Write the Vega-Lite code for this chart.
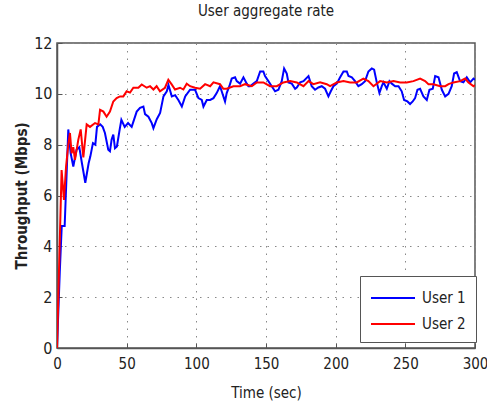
{
  "$schema": "https://vega.github.io/schema/vega-lite/v6.json",
  "autosize": "none",
  "padding": {"left": 57, "top": 43, "right": 12, "bottom": 58},
  "width": 418,
  "height": 305,
  "background": "white",
  "title": {"text": "User aggregate rate", "fontSize": 15, "fontWeight": "normal", "font": "DejaVu Sans Condensed, sans-serif", "color": "#222", "offset": 16},
  "config": {
    "view": {"stroke": "#555", "strokeWidth": 1.5},
    "axis": {"labelFont": "DejaVu Sans Condensed, sans-serif", "titleFont": "DejaVu Sans Condensed, sans-serif", "labelColor": "#222", "titleColor": "#222"}
  },
  "data": {"values": [
    {"t":0,"v":0,"user":"User 1"},{"t":2,"v":3.0,"user":"User 1"},{"t":3.4,"v":4.8,"user":"User 1"},{"t":5.5,"v":4.8,"user":"User 1"},{"t":8.1,"v":8.6,"user":"User 1"},{"t":9.8,"v":7.66,"user":"User 1"},{"t":11.7,"v":7.14,"user":"User 1"},{"t":14,"v":7.8,"user":"User 1"},{"t":16,"v":7.9,"user":"User 1"},{"t":17.9,"v":7.27,"user":"User 1"},{"t":20.3,"v":6.5,"user":"User 1"},{"t":22.7,"v":7.27,"user":"User 1"},{"t":23.9,"v":7.53,"user":"User 1"},{"t":25.8,"v":8.06,"user":"User 1"},{"t":27.5,"v":8.0,"user":"User 1"},{"t":28.7,"v":8.7,"user":"User 1"},{"t":31,"v":8.8,"user":"User 1"},{"t":32.8,"v":8.7,"user":"User 1"},{"t":34.4,"v":8.46,"user":"User 1"},{"t":36.8,"v":7.8,"user":"User 1"},{"t":38,"v":7.74,"user":"User 1"},{"t":39.2,"v":8.2,"user":"User 1"},{"t":40.4,"v":8.4,"user":"User 1"},{"t":41.6,"v":7.86,"user":"User 1"},{"t":43,"v":7.93,"user":"User 1"},{"t":45,"v":8.6,"user":"User 1"},{"t":46.2,"v":8.98,"user":"User 1"},{"t":48.6,"v":8.7,"user":"User 1"},{"t":51,"v":8.85,"user":"User 1"},{"t":53.6,"v":8.7,"user":"User 1"},{"t":57.2,"v":9.3,"user":"User 1"},{"t":59.6,"v":9.45,"user":"User 1"},{"t":62,"v":9.5,"user":"User 1"},{"t":63.2,"v":9.2,"user":"User 1"},{"t":65.6,"v":9.1,"user":"User 1"},{"t":68,"v":8.85,"user":"User 1"},{"t":69.2,"v":8.65,"user":"User 1"},{"t":71.6,"v":9.0,"user":"User 1"},{"t":74,"v":9.25,"user":"User 1"},{"t":76.4,"v":9.9,"user":"User 1"},{"t":78.8,"v":10.1,"user":"User 1"},{"t":80,"v":10.35,"user":"User 1"},{"t":82.4,"v":9.9,"user":"User 1"},{"t":84.8,"v":9.95,"user":"User 1"},{"t":87.2,"v":9.75,"user":"User 1"},{"t":89.6,"v":9.5,"user":"User 1"},{"t":92,"v":9.9,"user":"User 1"},{"t":95.5,"v":10.16,"user":"User 1"},{"t":99.1,"v":10.16,"user":"User 1"},{"t":101.5,"v":9.83,"user":"User 1"},{"t":103.9,"v":9.76,"user":"User 1"},{"t":105.1,"v":9.5,"user":"User 1"},{"t":107.5,"v":9.76,"user":"User 1"},{"t":109.9,"v":9.76,"user":"User 1"},{"t":112.3,"v":9.83,"user":"User 1"},{"t":114.6,"v":10.03,"user":"User 1"},{"t":117,"v":10.3,"user":"User 1"},{"t":118.2,"v":10.1,"user":"User 1"},{"t":119.4,"v":9.9,"user":"User 1"},{"t":120.6,"v":9.7,"user":"User 1"},{"t":121.8,"v":10.03,"user":"User 1"},{"t":123.7,"v":10.3,"user":"User 1"},{"t":125.4,"v":10.6,"user":"User 1"},{"t":127.8,"v":10.65,"user":"User 1"},{"t":129,"v":10.5,"user":"User 1"},{"t":131.4,"v":10.4,"user":"User 1"},{"t":133.8,"v":10.65,"user":"User 1"},{"t":136.2,"v":10.4,"user":"User 1"},{"t":137.4,"v":10.3,"user":"User 1"},{"t":138.6,"v":10.3,"user":"User 1"},{"t":141,"v":10.4,"user":"User 1"},{"t":143.4,"v":10.5,"user":"User 1"},{"t":145.8,"v":10.88,"user":"User 1"},{"t":148.1,"v":10.88,"user":"User 1"},{"t":149.3,"v":10.7,"user":"User 1"},{"t":151.7,"v":10.5,"user":"User 1"},{"t":154.1,"v":10.3,"user":"User 1"},{"t":156.5,"v":10.1,"user":"User 1"},{"t":158.9,"v":10.16,"user":"User 1"},{"t":161.3,"v":10.5,"user":"User 1"},{"t":163,"v":11.0,"user":"User 1"},{"t":164.9,"v":10.8,"user":"User 1"},{"t":166.1,"v":10.45,"user":"User 1"},{"t":168.5,"v":10.4,"user":"User 1"},{"t":170.9,"v":10.2,"user":"User 1"},{"t":172.1,"v":10.25,"user":"User 1"},{"t":174.5,"v":10.45,"user":"User 1"},{"t":176.9,"v":10.5,"user":"User 1"},{"t":180.5,"v":10.7,"user":"User 1"},{"t":182.8,"v":10.3,"user":"User 1"},{"t":185.2,"v":10.16,"user":"User 1"},{"t":187.6,"v":10.25,"user":"User 1"},{"t":190,"v":10.3,"user":"User 1"},{"t":192.4,"v":10.2,"user":"User 1"},{"t":194.8,"v":9.9,"user":"User 1"},{"t":196.5,"v":10.1,"user":"User 1"},{"t":198.4,"v":10.3,"user":"User 1"},{"t":200.8,"v":10.4,"user":"User 1"},{"t":203.2,"v":10.65,"user":"User 1"},{"t":205.6,"v":10.88,"user":"User 1"},{"t":208,"v":10.88,"user":"User 1"},{"t":209.2,"v":10.7,"user":"User 1"},{"t":211.6,"v":10.65,"user":"User 1"},{"t":213.9,"v":10.5,"user":"User 1"},{"t":216.3,"v":10.3,"user":"User 1"},{"t":218.7,"v":10.38,"user":"User 1"},{"t":221.1,"v":10.5,"user":"User 1"},{"t":223.5,"v":10.88,"user":"User 1"},{"t":225.9,"v":11.0,"user":"User 1"},{"t":227.6,"v":10.95,"user":"User 1"},{"t":229.5,"v":10.45,"user":"User 1"},{"t":231.4,"v":10.03,"user":"User 1"},{"t":233.1,"v":10.3,"user":"User 1"},{"t":234.3,"v":10.45,"user":"User 1"},{"t":236.7,"v":10.2,"user":"User 1"},{"t":238.6,"v":10.5,"user":"User 1"},{"t":240.3,"v":10.4,"user":"User 1"},{"t":242.7,"v":10.3,"user":"User 1"},{"t":245.1,"v":10.3,"user":"User 1"},{"t":247.4,"v":10.1,"user":"User 1"},{"t":249.1,"v":9.76,"user":"User 1"},{"t":251.5,"v":9.7,"user":"User 1"},{"t":253.4,"v":9.6,"user":"User 1"},{"t":255.3,"v":9.7,"user":"User 1"},{"t":257,"v":9.83,"user":"User 1"},{"t":258.7,"v":10.16,"user":"User 1"},{"t":260.6,"v":10.2,"user":"User 1"},{"t":263,"v":9.9,"user":"User 1"},{"t":265.4,"v":9.76,"user":"User 1"},{"t":267.3,"v":10.16,"user":"User 1"},{"t":269.7,"v":10.2,"user":"User 1"},{"t":271.4,"v":10.7,"user":"User 1"},{"t":273.8,"v":10.65,"user":"User 1"},{"t":276.2,"v":10.16,"user":"User 1"},{"t":278.6,"v":9.9,"user":"User 1"},{"t":281,"v":10.0,"user":"User 1"},{"t":283.3,"v":10.3,"user":"User 1"},{"t":285,"v":10.8,"user":"User 1"},{"t":286.9,"v":10.85,"user":"User 1"},{"t":289.3,"v":10.5,"user":"User 1"},{"t":291.7,"v":10.45,"user":"User 1"},{"t":294.1,"v":10.65,"user":"User 1"},{"t":296.5,"v":10.45,"user":"User 1"},{"t":298.9,"v":10.6,"user":"User 1"},{"t":300,"v":10.55,"user":"User 1"},
    {"t":0,"v":0,"user":"User 2"},{"t":3.3,"v":7.0,"user":"User 2"},{"t":5,"v":5.83,"user":"User 2"},{"t":6.5,"v":7.14,"user":"User 2"},{"t":8.1,"v":8.0,"user":"User 2"},{"t":9.3,"v":8.46,"user":"User 2"},{"t":10.5,"v":7.66,"user":"User 2"},{"t":11.7,"v":7.9,"user":"User 2"},{"t":12.9,"v":7.4,"user":"User 2"},{"t":15.3,"v":8.2,"user":"User 2"},{"t":17,"v":8.6,"user":"User 2"},{"t":18.9,"v":7.5,"user":"User 2"},{"t":21.3,"v":8.8,"user":"User 2"},{"t":23.7,"v":8.7,"user":"User 2"},{"t":27.3,"v":8.85,"user":"User 2"},{"t":29.7,"v":8.8,"user":"User 2"},{"t":30.9,"v":9.37,"user":"User 2"},{"t":33.3,"v":9.3,"user":"User 2"},{"t":35.6,"v":9.1,"user":"User 2"},{"t":38,"v":9.3,"user":"User 2"},{"t":40.4,"v":9.7,"user":"User 2"},{"t":42.8,"v":9.83,"user":"User 2"},{"t":45.2,"v":9.9,"user":"User 2"},{"t":47.6,"v":9.9,"user":"User 2"},{"t":50,"v":10.1,"user":"User 2"},{"t":52.4,"v":10.05,"user":"User 2"},{"t":54.8,"v":10.24,"user":"User 2"},{"t":58.4,"v":10.24,"user":"User 2"},{"t":60.8,"v":10.37,"user":"User 2"},{"t":64.4,"v":10.24,"user":"User 2"},{"t":66.8,"v":10.3,"user":"User 2"},{"t":69.2,"v":10.17,"user":"User 2"},{"t":71.5,"v":10.3,"user":"User 2"},{"t":73.9,"v":10.1,"user":"User 2"},{"t":77.5,"v":10.24,"user":"User 2"},{"t":79.9,"v":10.55,"user":"User 2"},{"t":82.3,"v":10.37,"user":"User 2"},{"t":84.7,"v":10.17,"user":"User 2"},{"t":88.3,"v":10.24,"user":"User 2"},{"t":90.7,"v":10.17,"user":"User 2"},{"t":93.1,"v":10.4,"user":"User 2"},{"t":95.5,"v":10.3,"user":"User 2"},{"t":99.1,"v":10.24,"user":"User 2"},{"t":102.7,"v":10.2,"user":"User 2"},{"t":106.3,"v":10.38,"user":"User 2"},{"t":109.9,"v":10.3,"user":"User 2"},{"t":112.3,"v":10.45,"user":"User 2"},{"t":117,"v":10.38,"user":"User 2"},{"t":119.4,"v":10.2,"user":"User 2"},{"t":121.8,"v":10.2,"user":"User 2"},{"t":126.6,"v":10.3,"user":"User 2"},{"t":131.4,"v":10.3,"user":"User 2"},{"t":135,"v":10.38,"user":"User 2"},{"t":139.8,"v":10.3,"user":"User 2"},{"t":143.4,"v":10.45,"user":"User 2"},{"t":148.1,"v":10.45,"user":"User 2"},{"t":152.9,"v":10.3,"user":"User 2"},{"t":157.7,"v":10.3,"user":"User 2"},{"t":162.5,"v":10.45,"user":"User 2"},{"t":167.3,"v":10.5,"user":"User 2"},{"t":172.1,"v":10.45,"user":"User 2"},{"t":176.9,"v":10.3,"user":"User 2"},{"t":180.5,"v":10.5,"user":"User 2"},{"t":184,"v":10.38,"user":"User 2"},{"t":188.8,"v":10.45,"user":"User 2"},{"t":193.6,"v":10.38,"user":"User 2"},{"t":196,"v":10.3,"user":"User 2"},{"t":200.8,"v":10.45,"user":"User 2"},{"t":205.6,"v":10.5,"user":"User 2"},{"t":210.4,"v":10.45,"user":"User 2"},{"t":215.1,"v":10.45,"user":"User 2"},{"t":219.9,"v":10.6,"user":"User 2"},{"t":223.5,"v":10.5,"user":"User 2"},{"t":227.1,"v":10.3,"user":"User 2"},{"t":231.9,"v":10.5,"user":"User 2"},{"t":236.7,"v":10.45,"user":"User 2"},{"t":241.5,"v":10.5,"user":"User 2"},{"t":246.3,"v":10.45,"user":"User 2"},{"t":251,"v":10.45,"user":"User 2"},{"t":255.8,"v":10.5,"user":"User 2"},{"t":260.6,"v":10.6,"user":"User 2"},{"t":264.2,"v":10.5,"user":"User 2"},{"t":266.6,"v":10.38,"user":"User 2"},{"t":270.2,"v":10.38,"user":"User 2"},{"t":275,"v":10.3,"user":"User 2"},{"t":278.6,"v":10.3,"user":"User 2"},{"t":281,"v":10.38,"user":"User 2"},{"t":284.5,"v":10.45,"user":"User 2"},{"t":289.3,"v":10.5,"user":"User 2"},{"t":292.9,"v":10.6,"user":"User 2"},{"t":295.3,"v":10.45,"user":"User 2"},{"t":298.9,"v":10.3,"user":"User 2"},{"t":300,"v":10.35,"user":"User 2"}
  ]},
  "mark": {"type": "line", "strokeWidth": 2, "clip": true},
  "encoding": {
    "x": {"field": "t", "type": "quantitative", "scale": {"domain": [0, 300], "nice": false},
      "axis": {"title": "Time (sec)", "values": [0,50,100,150,200,250,300], "labelFontSize": 15, "titleFontSize": 15, "titleFontWeight": "normal", "labelPadding": 13, "titlePadding": 14,
        "grid": true, "gridDash": [1.5, 6], "gridColor": "#888", "gridWidth": 1, "tickSize": -5, "tickColor": "#555", "domainColor": "#555", "domainWidth": 1.5, "labelFlush": false}},
    "y": {"field": "v", "type": "quantitative", "scale": {"domain": [0, 12], "nice": false},
      "axis": {"title": "Throughput (Mbps)", "values": [0,2,4,6,8,10,12], "labelFontSize": 16, "titleFontSize": 15, "titleFontWeight": "bold", "labelPadding": 10, "titlePadding": 4,
        "grid": true, "gridDash": [1.5, 6], "gridColor": "#888", "gridWidth": 1, "tickSize": -5, "tickColor": "#555", "domainColor": "#555", "domainWidth": 1.5}},
    "color": {"field": "user", "type": "nominal", "scale": {"domain": ["User 1", "User 2"], "range": ["#0000ff", "#ff0000"]},
      "legend": {"title": null, "orient": "none", "legendX": 303, "legendY": 233, "strokeColor": "#555", "fillColor": "white", "padding": 10, "symbolType": "M-1,0H3", "symbolSize": 484, "symbolStrokeWidth": 2, "labelFontSize": 15, "labelFont": "DejaVu Sans Condensed, sans-serif", "labelColor": "#222", "rowPadding": 6, "labelOffset": 28}}
  }
}
